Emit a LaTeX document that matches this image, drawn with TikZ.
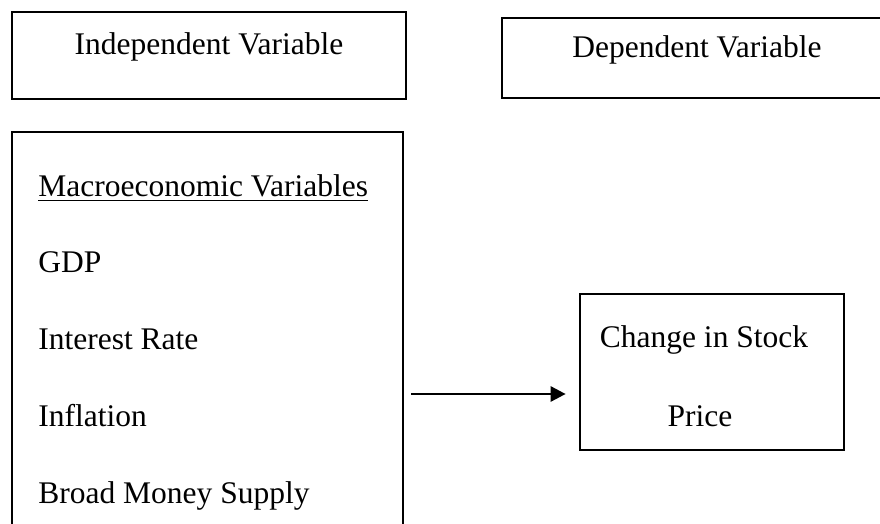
\documentclass[tikz,border=0pt]{standalone}
\usepackage{fontspec}
\setmainfont{Liberation Serif}
\usetikzlibrary{arrows.meta, positioning}

\begin{document}
\begin{tikzpicture}[x=0.5pt, y=-0.5pt, line width=1.35pt,
    % --- 样式定义 ---
    box/.style={draw=black, rectangle, inner sep=0pt},
    % 标题文字 (居中, 按基线放置)
    title_text/.style={font=\fontsize{15.75}{19}\selectfont, anchor=base, inner sep=0pt},
    % 列表文字 (左对齐)
    item_text/.style={font=\fontsize{15.75}{19}\selectfont, anchor=base west, inner sep=0pt},
    flow/.style={-{Triangle[length=7.5pt, width=7.5pt]}, shorten <=3.5pt, shorten >=6.5pt}
]
    \useasboundingbox (0,0) rectangle (880,524);

    % =========================================
    % 【上排】 两个标题框
    % =========================================
    \node[box, minimum width=197pt, minimum height=43.5pt] (indep) at (209, 55.5) {};
    \node[title_text] (indep_txt) at (209, 55) {Independent Variable};

    % 右边超出页面
    \node[box, minimum width=195pt, minimum height=40pt] (dep) at (697, 58) {};
    \node[title_text] (dep_txt) at (697, 58) {Dependent Variable};

    % =========================================
    % 【左下】 宏观经济变量 (下边超出页面)
    % =========================================
    \node[box, minimum width=195.5pt, minimum height=234pt] (macro) at (207.5, 366) {};

    \node[item_text] (macro_head) at (37, 197) {\underline{Macroeconomic Variables}};
    \node[item_text] (gdp)        at (37, 273) {GDP};
    \node[item_text] (rate)       at (37, 350) {Interest Rate};
    \node[item_text] (inflation)  at (37, 427) {Inflation};
    \node[item_text] (money)      at (37, 503) {Broad Money Supply};

    % =========================================
    % 【右下】 股价变化
    % =========================================
    \node[box, minimum width=132pt, minimum height=78pt] (stock) at (712, 372) {};
    \node[title_text] (stock_top) at (704, 348) {Change in Stock};
    \node[title_text] (stock_bot) at (700, 427) {Price};

    % 箭头: 宏观变量 -> 股价
    \coordinate (arrow_tip) at ([yshift=-11pt]stock.west);
    \draw[flow] (macro.east |- arrow_tip) -- (arrow_tip);

\end{tikzpicture}
\end{document}
